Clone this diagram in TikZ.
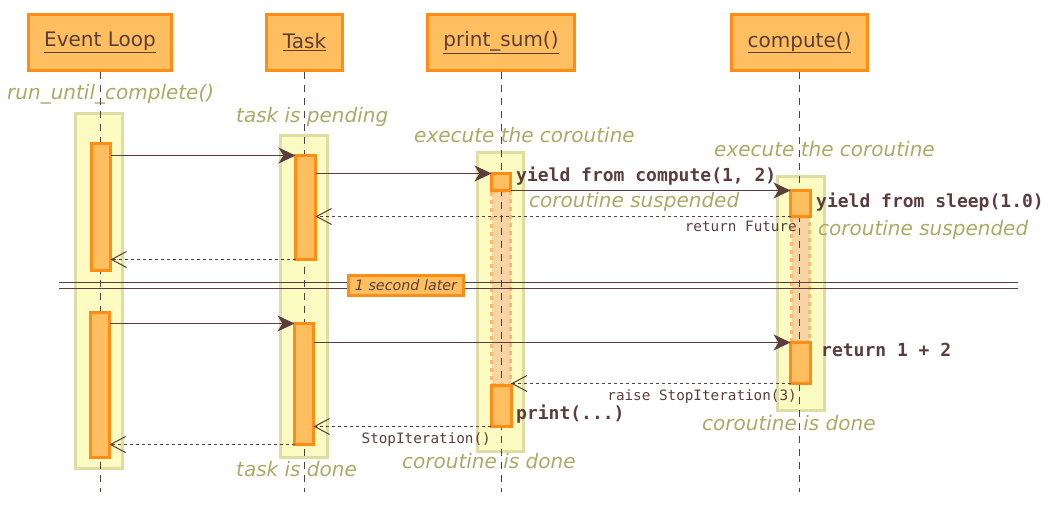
\documentclass[tikz,border=0pt]{standalone}
\usepackage{fontspec}
\setmainfont{DejaVu Sans}
\setmonofont{DejaVu Sans Mono}
\usepackage{tikz}
\usetikzlibrary{arrows.meta}

\definecolor{hdrfill}{HTML}{FFBF60}
\definecolor{hdrline}{HTML}{FF8C14}
\definecolor{grpfill}{HTML}{FBFBC2}
\definecolor{grpline}{HTML}{DEDEA4}
\definecolor{idlefill}{HTML}{F8D5A5}
\definecolor{idleline}{HTML}{FFB870}
\definecolor{notecol}{HTML}{AAAA66}
\definecolor{ink}{HTML}{5C3D3D}

\begin{document}
\begin{tikzpicture}[x=1pt, y=-1pt,
    header/.style={draw=hdrline, fill=hdrfill, line width=3pt, text=ink,
      font=\fontsize{20}{24}\selectfont, minimum height=56pt, inner xsep=16pt},
    group/.style={draw=grpline, fill=grpfill, line width=3pt},
    act/.style={draw=hdrline, fill=hdrfill, line width=3pt, inner sep=0pt, outer sep=0pt},
    idle/.style={draw=idleline, fill=idlefill, line width=3pt, dash pattern=on 4pt off 4pt},
    life/.style={draw=ink, line width=1pt, dash pattern=on 7pt off 6pt},
    note/.style={text=notecol, font=\fontsize{20}{24}\selectfont\itshape,
      inner sep=0pt, anchor=west, text height=15pt, text depth=5pt},
    code/.style={text=ink, font=\fontsize{18}{22}\selectfont\ttfamily\bfseries,
      inner sep=0pt, anchor=west, text height=14pt, text depth=4pt},
    ret/.style={text=ink, font=\fontsize{14.3}{17}\selectfont\ttfamily,
      inner sep=0pt, anchor=east, text height=11pt, text depth=3pt},
    call/.style={draw=ink, line width=1.3pt, -{Stealth[length=17pt, width=16pt, inset=5pt]}},
    back/.style={draw=ink, line width=1pt, dash pattern=on 3pt off 3pt,
      -{Straight Barb[length=15pt, width=16pt]}}
  ]
  \useasboundingbox (0,0) rectangle (1047,513);

  % participants
  \node[header] (loop) at (100,42.5) {\underline{Event Loop}};
  \node[header] (task) at (304.5,42.5) {\underline{Task}};
  \node[header] (psum) at (501,42.5) {\underline{print\_sum()}};
  \node[header] (comp) at (799.5,42.5) {\underline{compute()}};
  \coordinate (bottom) at (0,492);

  % groups
  \filldraw[group] (75.5,113.5) rectangle (122.5,468.5);
  \filldraw[group] (280.5,135.5) rectangle (327.5,457.5);
  \filldraw[group] (477.5,152.5) rectangle (523.5,451.5);
  \filldraw[group] (777.5,176.5) rectangle (824.5,410.5);

  % suspended
  \filldraw[idle] (491.5,192) rectangle (510.5,384);
  \filldraw[idle] (791.5,218) rectangle (809.5,341);

  % notes
  \node[note] at (7,95) {run\_until\_complete()};
  \node[note] at (236,118) {task is pending};
  \node[note] at (414,138) {execute the coroutine};
  \node[note] at (714,152) {execute the coroutine};
  \node[note] at (529,203) {coroutine suspended};
  \node[note] at (818,231) {coroutine suspended};
  \node[note] at (702,425) {coroutine is done};
  \node[note] at (402,463) {coroutine is done};
  \node[note] at (236,471) {task is done};

  % lifelines
  \draw[life] (loop.south) -- (loop.south |- bottom);
  \draw[life] (task.south) -- (task.south |- bottom);
  \draw[life] (psum.south) -- (psum.south |- bottom);
  \draw[life] (comp.south) -- (comp.south |- bottom);

  % activations
  \node[act, minimum width=19pt, minimum height=127pt] (loop1) at (101,207) {};
  \node[act, minimum width=19pt, minimum height=145pt] (loop2) at (100,385) {};
  \node[act, minimum width=20pt, minimum height=104pt] (task1) at (305.5,207.5) {};
  \node[act, minimum width=19pt, minimum height=121pt] (task2) at (304,384) {};
  \node[act, minimum width=19pt, minimum height=17pt] (psum1) at (501,182) {};
  \node[act, minimum width=20pt, minimum height=41pt] (psum2) at (501,406) {};
  \node[act, minimum width=20pt, minimum height=26pt] (comp1) at (800.5,203.5) {};
  \node[act, minimum width=20pt, minimum height=41pt] (comp2) at (800.5,363) {};

  % messages
  \draw[call] (loop1.east |- task1.north west) -- (task1.north west);
  \draw[call] (task1.east |- psum1.north west) -- (psum1.north west);
  \draw[call] (psum1.east |- comp1.north west) -- (comp1.north west);
  \draw[back] (comp1.south west) -- (task1.east |- comp1.south west);
  \draw[back] (task1.south west) -- (loop1.east |- task1.south west);
  \draw[call] (loop2.east |- task2.north west) -- (task2.north west);
  \draw[call] (task2.east |- comp2.north west) -- (comp2.north west);
  \draw[back] (comp2.south west) -- (psum2.east |- comp2.south west);
  \draw[back] (psum2.south west) -- (task2.east |- psum2.south west);
  \draw[back] (task2.south west) -- (loop2.east |- task2.south west);

  \node[code] at (516,177) {yield from compute(1, 2)};
  \node[code] at (816,203) {yield from sleep(1.0)};
  \node[code] at (821,351) {return 1 + 2};
  \node[code] at (516,414) {print(...)};
  \node[ret] at (797,228) {return Future};
  \node[ret] at (797,396) {raise StopIteration(3)};
  \node[ret] at (491,439) {StopIteration()};

  % one second later
  \draw[ink, line width=1pt] (59,282) -- (1018,282) (59,288) -- (1018,288);
  \node[draw=hdrline, fill=hdrfill, line width=3pt, text=ink, inner sep=0pt,
    minimum width=115pt, minimum height=20pt,
    font=\fontsize{14.3}{17}\selectfont\itshape] (later) at (406,285.5) {1 second later};
\end{tikzpicture}
\end{document}
